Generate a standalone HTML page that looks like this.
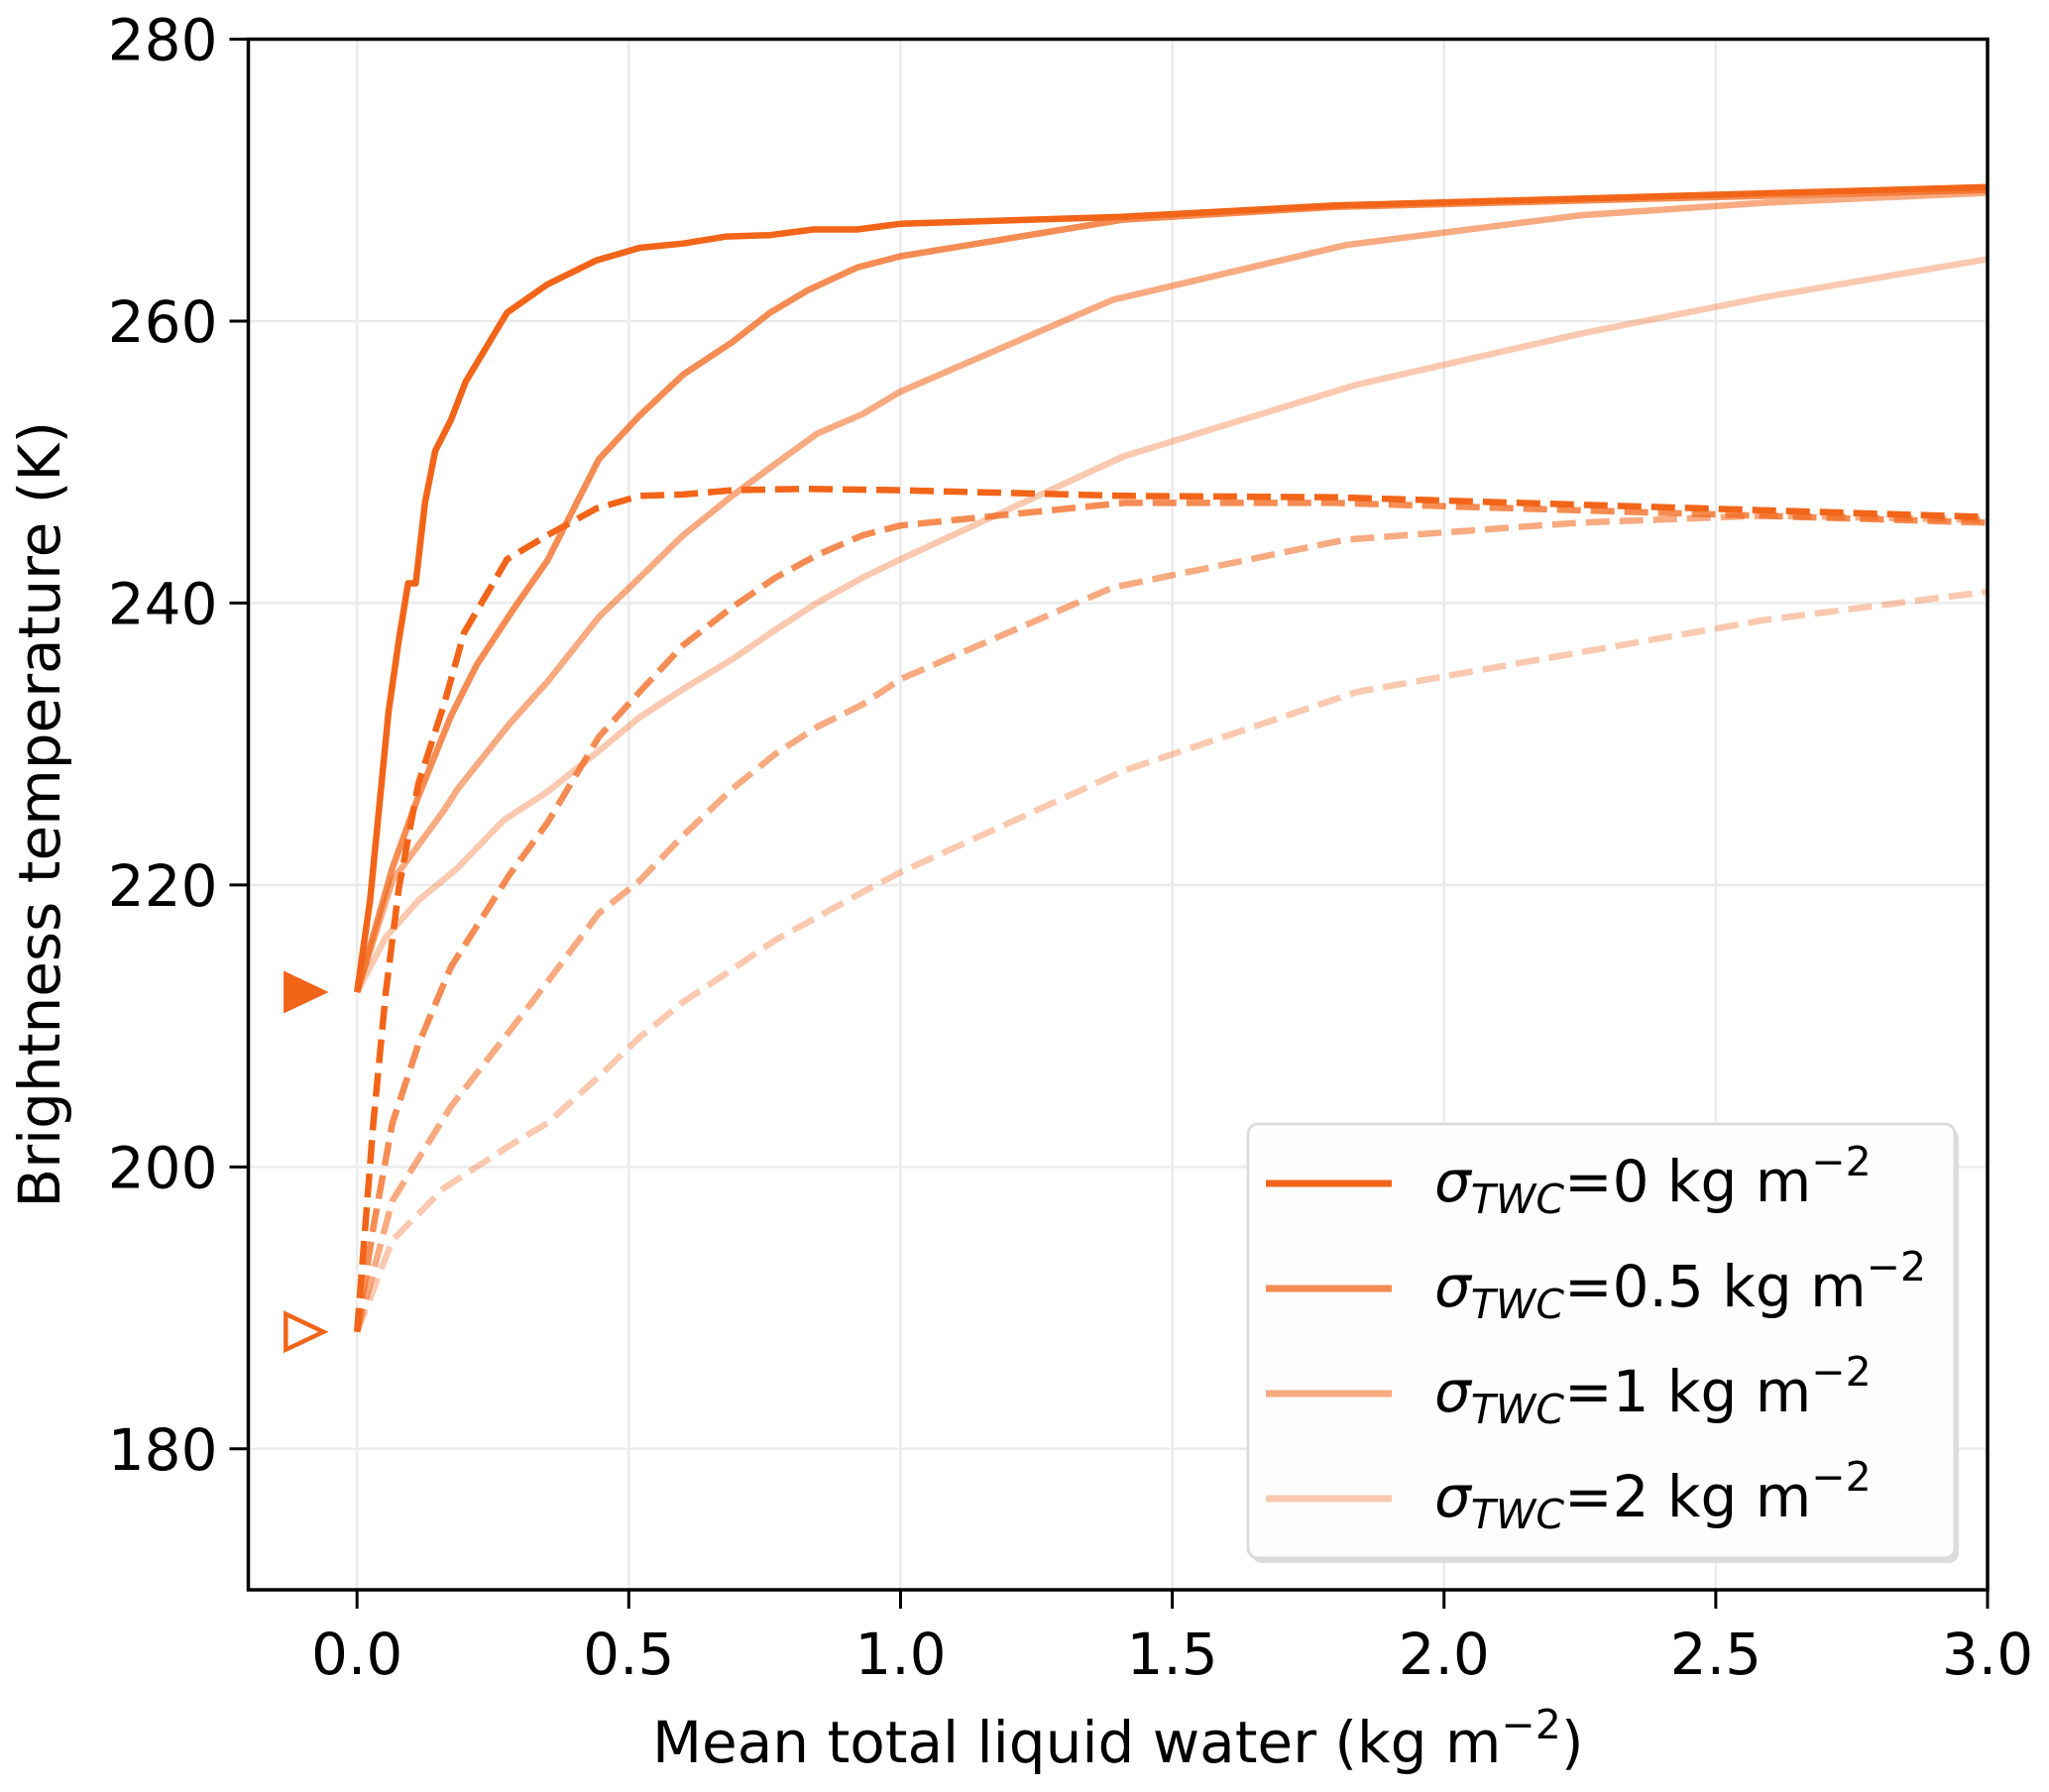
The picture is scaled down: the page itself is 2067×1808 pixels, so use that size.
<!DOCTYPE html>
<html><head><meta charset="utf-8"><style>
html,body{margin:0;padding:0;background:#fff}
svg{display:block;font-family:"DejaVu Sans","Liberation Sans",sans-serif}
</style></head><body>
<svg id="chart" width="2067" height="1808" viewBox="0 0 2067 1808" xmlns="http://www.w3.org/2000/svg">
<g id="grid"></g>
<g id="series"></g>
<g id="axes"></g>
<g id="legend"></g>
</svg>
<script>
const xTicks = [0.0, 0.5, 1.0, 1.5, 2.0, 2.5, 3.0];
const xTickLabels = ["0.0","0.5","1.0","1.5","2.0","2.5","3.0"];
const yTicks = [180, 200, 220, 240, 260, 280];
const yTickLabels = ["180","200","220","240","260","280"];
const seriesNames = ["0", "0.5", "1", "2"];
const seriesOpacity = [1, 0.75, 0.55, 0.35];

const solid0X = [0,0.024,0.058,0.077,0.094,0.108,0.125,0.144,0.173,0.2,0.276,0.35,0.44,0.52,0.6,0.68,0.76,0.84,0.92,1.0,1.41,1.8,3.0];
const solid0Y = [212.4,218.9,232.3,237.4,241.4,241.4,247.1,250.8,253,255.7,260.6,262.6,264.3,265.2,265.5,266,266.1,266.5,266.5,266.9,267.4,268.2,269.5];
const solid05X = [0,0.065,0.113,0.173,0.22,0.29,0.35,0.445,0.52,0.6,0.69,0.76,0.83,0.92,1.0,1.41,1.8,3.0];
const solid05Y = [212.4,221.2,226.3,232,235.6,239.7,243,250.2,253.3,256.2,258.5,260.6,262.2,263.8,264.6,267.2,268.1,269.3];
const solid1X = [0,0.065,0.16,0.185,0.28,0.35,0.445,0.52,0.6,0.69,0.76,0.846,0.93,1.0,1.39,1.82,2.25,2.59,3.0];
const solid1Y = [212.4,220.3,225.3,226.8,231.4,234.4,239,241.8,244.8,247.6,249.6,252,253.4,255,261.5,265.4,267.5,268.4,269.1];
const solid2X = [0,0.053,0.113,0.185,0.27,0.35,0.445,0.52,0.6,0.69,0.77,0.846,0.93,1.0,1.41,1.84,2.25,2.59,3.0];
const solid2Y = [212.4,216.3,218.9,221.2,224.6,226.6,229.5,231.9,233.9,236,238.1,240,241.8,243.1,250.4,255.5,259.1,261.7,264.4];

const dash0X = [0,0.03,0.053,0.077,0.113,0.16,0.197,0.276,0.35,0.44,0.52,0.6,0.69,0.83,1.0,1.41,1.8,3.0];
const dash0Y = [188.3,203.1,212.4,219.8,227.2,232.8,237.9,243.1,244.8,246.7,247.6,247.7,248,248.1,248,247.6,247.5,246.1];
const dash05X = [0,0.03,0.065,0.113,0.173,0.28,0.35,0.445,0.52,0.6,0.69,0.77,0.846,0.93,1.0,1.41,1.8,3.0];
const dash05Y = [188.3,195.7,203.1,208.7,214.2,220.7,224.4,230.5,233.7,237,239.7,241.8,243.4,244.8,245.5,247.1,247.1,245.7];
const dash1X = [0,0.065,0.173,0.28,0.35,0.445,0.52,0.6,0.69,0.77,0.846,0.93,1.0,1.39,1.82,2.25,2.59,3.0];
const dash1Y = [188.3,197.6,204.3,209.6,213.1,218,220.3,223.5,226.8,229.3,231.2,232.8,234.6,241.1,244.5,245.7,246.2,245.9];
const dash2X = [0,0.065,0.16,0.28,0.35,0.445,0.52,0.6,0.69,0.77,0.846,0.93,1.0,1.41,1.84,2.25,2.59,3.0];
const dash2Y = [188.3,194.8,198.5,201.5,203.1,206.4,209.2,211.7,214,216.1,217.7,219.5,220.9,228.1,233.7,236.5,238.8,240.8];

const markerX = [-0.1, -0.1];
const markerY = [212.4, 188.3];

const NS = "http://www.w3.org/2000/svg";
const L = 250.5, R = 2005, T = 39.5, B = 1604;
const xMin = -0.2, xMax = 3.0, yMin = 170, yMax = 280;
const COLOR = "rgb(242,101,25)";
function sx(v){ return L + (v - xMin) / (xMax - xMin) * (R - L); }
function sy(v){ return B - (v - yMin) / (yMax - yMin) * (B - T); }
function mk(tag, attrs, parent){ const e = document.createElementNS(NS, tag); for (const k in attrs) e.setAttribute(k, attrs[k]); parent.appendChild(e); return e; }

const grid = document.getElementById('grid');
const axes = document.getElementById('axes');
const ser = document.getElementById('series');
const leg = document.getElementById('legend');

xTicks.forEach((v, i) => {
  const g = mk('line', {x1: sx(v), x2: sx(v), y1: T, y2: B, stroke: '#ebebeb', 'stroke-width': 2.5}, grid);
  
  
  const t = mk('line', {x1: sx(v), x2: sx(v), y1: B, y2: B + 19, stroke: '#000', 'stroke-width': 3}, axes);
  
  
  const lb = mk('text', {x: sx(v), y: B + 85, 'font-size': 58, 'text-anchor': 'middle', fill: '#000'}, axes);
  lb.textContent = xTickLabels[i];
  
  
});
yTicks.forEach((v, i) => {
  const g = mk('line', {x1: L, x2: R, y1: sy(v), y2: sy(v), stroke: '#ebebeb', 'stroke-width': 2.5}, grid);
  
  
  const t = mk('line', {x1: L - 19, x2: L, y1: sy(v), y2: sy(v), stroke: '#000', 'stroke-width': 3}, axes);
  
  
  const lb = mk('text', {x: L - 31, y: sy(v) + 21, 'font-size': 58, 'text-anchor': 'end', fill: '#000'}, axes);
  lb.textContent = yTickLabels[i];
  
  
});

const solids = [[solid0X, solid0Y],[solid05X, solid05Y],[solid1X, solid1Y],[solid2X, solid2Y]];
const dashes = [[dash0X, dash0Y],[dash05X, dash05Y],[dash1X, dash1Y],[dash2X, dash2Y]];
function pts(xs, ys){ return xs.map((x, i) => sx(x).toFixed(1) + ',' + sy(ys[i]).toFixed(1)).join(' '); }
for (let i = seriesNames.length - 1; i >= 0; i--) {
  const d = mk('polyline', {points: pts(dashes[i][0], dashes[i][1]), fill: 'none', stroke: COLOR, 'stroke-opacity': seriesOpacity[i], 'stroke-width': 6.5, 'stroke-dasharray': '24,10', 'stroke-linejoin': 'round'}, ser);
  
  
  const s = mk('polyline', {points: pts(solids[i][0], solids[i][1]), fill: 'none', stroke: COLOR, 'stroke-opacity': seriesOpacity[i], 'stroke-width': 6.5, 'stroke-linejoin': 'round'}, ser);
  
  
}
markerX.forEach((v, i) => {
  const cx = sx(v), cy = sy(markerY[i]);
  const m = mk('polygon', {points: `${cx-17},${cy-18} ${cx+21},${cy} ${cx-17},${cy+18}`, fill: i === 0 ? COLOR : '#fff', stroke: COLOR, 'stroke-width': 4.5}, ser);
  
  
});

const frame = mk('rect', {x: L, y: T, width: R - L, height: B - T, fill: 'none', stroke: '#000', 'stroke-width': 3.5}, axes);


const xl = mk('text', {x: (L + R) / 2, y: 1778, 'font-size': 58, 'text-anchor': 'middle', fill: '#000'}, axes);
xl.innerHTML = 'Mean total liquid water (kg m<tspan dy="-24" font-size="41">−2</tspan><tspan dy="24">)</tspan>';


const yl = mk('text', {x: 0, y: 0, 'font-size': 58, 'text-anchor': 'middle', fill: '#000', transform: `translate(60,${(T + B) / 2}) rotate(-90)`}, axes);
yl.textContent = 'Brightness temperature (K)';



const lshadow = mk('rect', {x: 1263, y: 1139, width: 713, height: 438, rx: 10, fill: '#dcdcdc'}, leg);


const lbox = mk('rect', {x: 1259, y: 1134, width: 713, height: 438, rx: 10, fill: '#fff', 'fill-opacity': 0.92, stroke: '#dcdcdc', 'stroke-width': 3}, leg);


seriesNames.forEach((n, i) => {
  const y = 1194 + i * 106;
  const ln = mk('line', {x1: 1277, x2: 1404, y1: y, y2: y, stroke: COLOR, 'stroke-opacity': seriesOpacity[i], 'stroke-width': 7}, leg);
  
  
  const tx = mk('text', {x: 1447, y: y + 18, 'font-size': 58, fill: '#000'}, leg);
  tx.innerHTML = '<tspan font-style="italic">σ</tspan><tspan font-style="italic" font-size="41" dy="12">TWC</tspan><tspan dy="-12">=' + n + ' kg m</tspan><tspan dy="-26" font-size="41">−2</tspan>';
  
  
});
</script>
</body></html>
